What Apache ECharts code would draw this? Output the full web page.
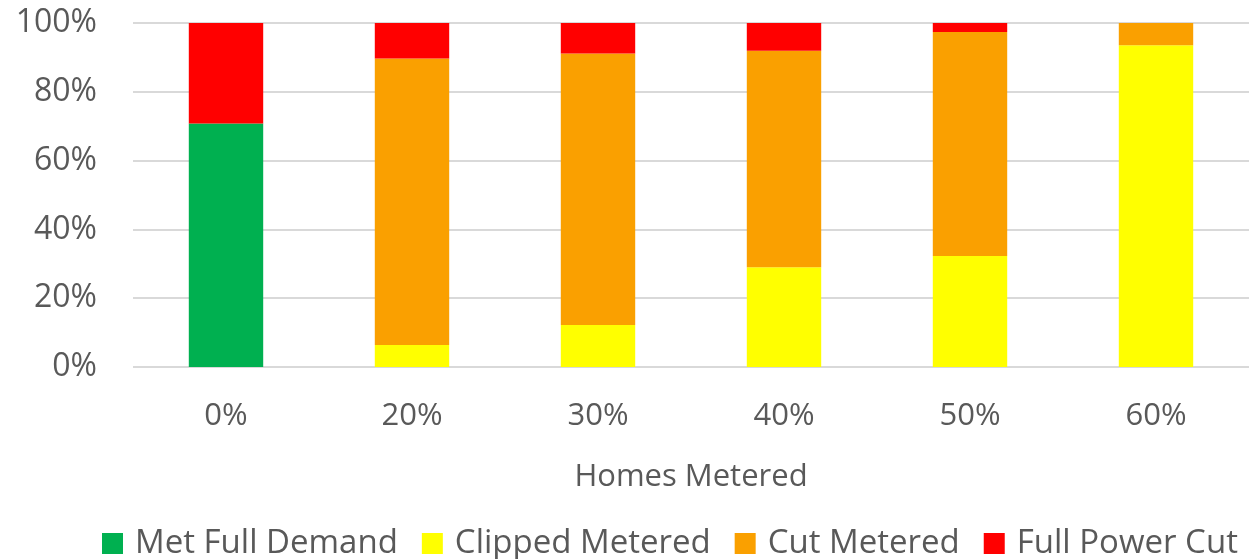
<!DOCTYPE html>
<html>
<head>
<meta charset="utf-8">
<script src="https://cdn.jsdelivr.net/npm/echarts@6/dist/echarts.min.js"></script>
<style>
  html, body { margin: 0; padding: 0; background: #ffffff; }
  #chart { width: 1249px; height: 559px; }
</style>
</head>
<body>
<div id="chart"></div>
<script>
// Share of outcomes (percent) by share of homes metered
const categories = ['0%', '20%', '30%', '40%', '50%', '60%'];
const metFullDemand = [70.8, 0, 0, 0, 0, 0];
const clippedMetered = [0, 6.4, 12.2, 29.0, 32.3, 93.5];
const cutMetered = [0, 83.3, 78.9, 62.9, 65.1, 6.5];
const fullPowerCut = [29.2, 10.3, 8.9, 8.1, 2.6, 0];
const yTicks = { min: 0, max: 100, interval: 20 };

const textColor = '#595959';
const fontFamily = '"Open Sans", "Noto Sans", sans-serif';

function barSeries(name, data, color) {
  return {
    name: name,
    type: 'bar',
    stack: 'total',
    data: data,
    barWidth: '40%',
    itemStyle: { color: color },
    emphasis: { disabled: true }
  };
}

const chart = echarts.init(document.getElementById('chart'), null, { renderer: 'canvas' });
chart.setOption({
  animation: false,
  backgroundColor: '#ffffff',
  textStyle: { fontFamily: fontFamily },
  grid: { left: 133, right: 0, top: 23, bottom: 192, containLabel: false },
  legend: {
    top: 522,
    left: 97,
    icon: 'rect',
    itemWidth: 21,
    itemHeight: 21,
    itemGap: 24,
    textStyle: { color: textColor, fontSize: 33, fontFamily: fontFamily, padding: [0, 0, 0, 7] },
    data: ['Met Full Demand', 'Clipped Metered', 'Cut Metered', 'Full Power Cut']
  },
  xAxis: {
    type: 'category',
    data: categories,
    name: 'Homes Metered',
    nameLocation: 'middle',
    nameGap: 95,
    nameTextStyle: { color: textColor, fontSize: 31, fontFamily: fontFamily },
    axisLine: { show: false },
    axisTick: { show: false },
    axisLabel: { color: textColor, fontSize: 31, margin: 34, fontFamily: fontFamily }
  },
  yAxis: {
    type: 'value',
    min: yTicks.min,
    max: yTicks.max,
    interval: yTicks.interval,
    axisLine: { show: false },
    axisTick: { show: false },
    axisLabel: { color: textColor, fontSize: 32, margin: 36, formatter: '{value}%', fontFamily: fontFamily },
    splitLine: { lineStyle: { color: '#d9d9d9', width: 2 } }
  },
  series: [
    barSeries('Met Full Demand', metFullDemand, '#00B050'),
    barSeries('Clipped Metered', clippedMetered, '#FFFF00'),
    barSeries('Cut Metered', cutMetered, '#FAA000'),
    barSeries('Full Power Cut', fullPowerCut, '#FF0000')
  ]
});
</script>
</body>
</html>
